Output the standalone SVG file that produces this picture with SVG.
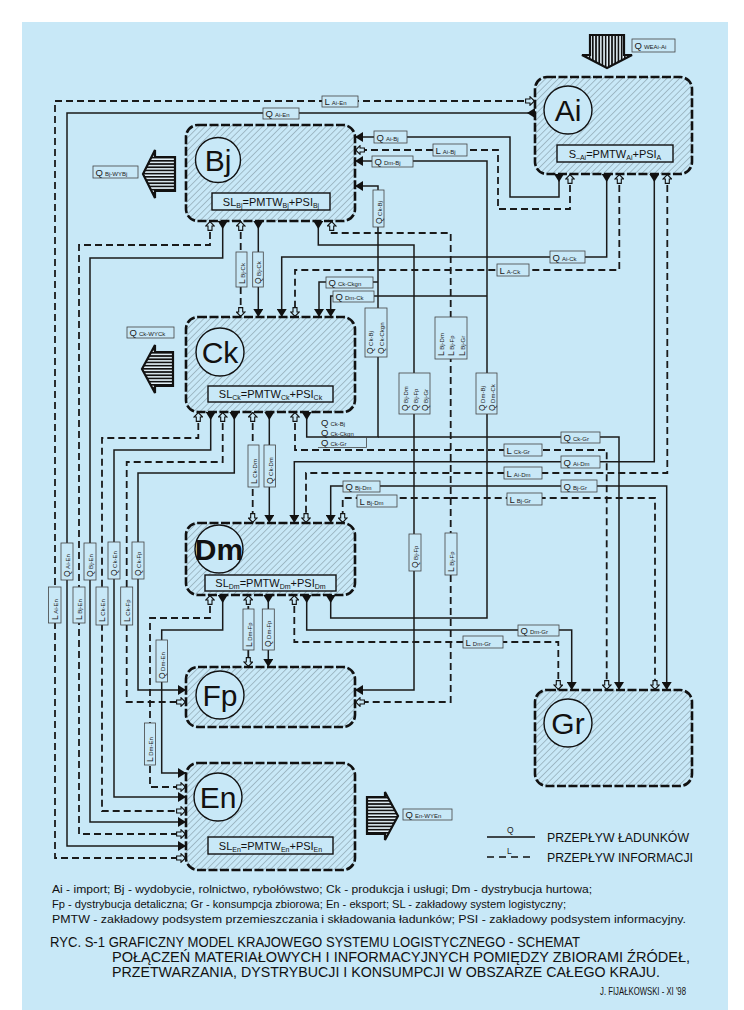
<svg xmlns="http://www.w3.org/2000/svg" width="744" height="1010" viewBox="0 0 744 1010">
<style>
.bg{fill:#c8e8f7}
.node{fill:url(#hatch);stroke:#111;stroke-width:2.6;stroke-dasharray:9 2.5}
.circ{fill:#c8e8f7;stroke:#111;stroke-width:1.4}
.big{font-family:"Liberation Sans",Arial,sans-serif;font-size:30px;fill:#111;text-anchor:middle}
.slbox{fill:#c8e8f7;stroke:#111;stroke-width:1.4}
.sl{font-family:"Liberation Sans",Arial,sans-serif;font-size:11px;fill:#111;text-anchor:middle}
.sb{font-size:7px}
.q{fill:none;stroke:#1a1a1a;stroke-width:1.5;marker-start:url(#qs);marker-end:url(#qe)}
.qb{fill:none;stroke:#1a1a1a;stroke-width:1.5;marker-end:url(#qe)}
.l{fill:none;stroke:#1a1a1a;stroke-width:1.8;stroke-dasharray:7 4;marker-start:url(#ie);marker-end:url(#ie)}
.lb{fill:none;stroke:#1a1a1a;stroke-width:1.8;stroke-dasharray:7 4;marker-end:url(#ie)}
.box{fill:#c8e8f7;stroke:#444;stroke-width:0.8}
.lt{font-family:"Liberation Sans",Arial,sans-serif;font-size:9.5px;fill:#222}
.vt{font-family:"Liberation Sans",Arial,sans-serif;font-size:8.5px;fill:#222}
.s{font-size:6px}
.xa{stroke:#111;stroke-width:2.2;stroke-linejoin:miter}
.foot{font-family:"Liberation Sans",Arial,sans-serif;font-size:11.5px;fill:#111}
.ttl{font-family:"Liberation Sans",Arial,sans-serif;font-size:15px;fill:#111}
.leg{font-family:"Liberation Sans",Arial,sans-serif;font-size:12px;fill:#111}
</style>
<defs>
<pattern id="hatch" width="4.5" height="4.5" patternUnits="userSpaceOnUse" patternTransform="rotate(45)">
<rect width="4.5" height="4.5" fill="#c8e8f7"/>
<line x1="0" y1="0" x2="0" y2="4.5" stroke="#56666e" stroke-width="0.7"/>
</pattern>
<pattern id="hstripe" width="10" height="3.2" patternUnits="userSpaceOnUse">
<rect width="10" height="3.2" fill="#e6f4fb"/>
<rect width="10" height="1.7" fill="#111"/>
</pattern>
<pattern id="vstripe" width="3.2" height="10" patternUnits="userSpaceOnUse">
<rect width="3.2" height="10" fill="#e6f4fb"/>
<rect width="1.7" height="10" fill="#111"/>
</pattern>
<marker id="qe" viewBox="0 0 8 10" refX="8" refY="5" markerWidth="8" markerHeight="10" markerUnits="userSpaceOnUse" orient="auto"><path d="M0,0 L8,5 L0,10 z" fill="#111" stroke="none"/></marker>
<marker id="qs" viewBox="0 0 8 10" refX="0" refY="5" markerWidth="8" markerHeight="10" markerUnits="userSpaceOnUse" orient="auto"><path d="M0,0 L8,5 L0,10 z" fill="#111" stroke="none"/></marker>
<marker id="ie" viewBox="0 0 10 10" refX="10" refY="5" markerWidth="10" markerHeight="10" markerUnits="userSpaceOnUse" orient="auto-start-reverse"><path d="M0.6,3 H5 V0.7 L9.4,5 L5,9.3 V7 H0.6 z" fill="#c8e8f7" stroke="#111" stroke-width="1.1" stroke-dasharray="none"/></marker>
</defs>

<rect x="0" y="0" width="744" height="1010" fill="#ffffff"/>
<rect class="bg" x="22" y="22" width="706" height="988"/>

<g id="connectors">
<path class="q" d="M535,113 H67 V846 H186"/>
<path class="q" d="M559,174 V197 H510 V137 H355"/>
<path class="q" d="M330.7,595 V618 H487 V161 H355"/>
<path class="qb" d="M487,296 H330.7 V317"/>
<path class="q" d="M222.7,221 V258 H90 V822 H186"/>
<path class="q" d="M258.3,221 V317"/>
<path class="q" d="M318.3,221 V245 H414 V690 H355"/>
<path class="qb" d="M414,486 H330.7 V523"/>
<path class="qb" d="M414,486 H666.7 V690"/>
<path class="q" d="M606.7,174 V257 H281.7 V317"/>
<path class="q" d="M654.3,174 V461.7 H294.3 V523"/>
<path class="q" d="M306.7,412 V437 H378 V186 H355"/>
<path class="qb" d="M378,282 H319 V317"/>
<path class="qb" d="M378,437 H619 V690" stroke-width="2.2"/>
<path class="q" d="M210.7,412 V450 H114 V797 H186"/>
<path class="q" d="M234.3,412 V473 H138 V690 H186"/>
<path class="q" d="M269.3,412 V523"/>
<path class="q" d="M222.7,595 V630 H161.7 V773 H186"/>
<path class="q" d="M268.3,595 V667"/>
<path class="q" d="M306.7,595 V630 H571.7 V690"/>

<path class="l" d="M535,101 H55 V858 H186"/>
<path class="l" d="M570,174 V209 H498 V150 H355"/>
<path class="l" d="M210,221 V245 H79 V834 H186"/>
<path class="l" d="M240.7,221 V317"/>
<path class="l" d="M331.7,221 V233 H450.7 V702 H355"/>
<path class="lb" d="M450.7,498 H342.7 V523"/>
<path class="lb" d="M450.7,498 H655 V690"/>
<path class="l" d="M619.3,174 V270 H295 V317"/>
<path class="l" d="M667.3,174 V473 H306 V523"/>
<path class="l" d="M198.3,412 V438 H102 V811 H186"/>
<path class="l" d="M222.7,412 V462 H126.7 V702 H186"/>
<path class="l" d="M252.7,412 V523"/>
<path class="l" d="M295,412 V450 H606.7 V690"/>
<path class="l" d="M210,595 V618 H150 V787 H186"/>
<path class="l" d="M248.3,595 V667"/>
<path class="l" d="M294.3,595 V642 H558.3 V690"/>
</g>

<g id="node-Ai">
<rect class="node" x="535" y="77" width="157" height="97" rx="12"/>
<circle class="circ" cx="568" cy="110" r="24"/>
<text class="big" x="568" y="121">Ai</text>
<rect class="slbox" x="557" y="145" width="116" height="17"/>
<text class="sl" x="615" y="157.5">S<tspan class="sb" dy="2">–Ai</tspan><tspan dy="-2">=PMTW</tspan><tspan class="sb" dy="2">Ai</tspan><tspan dy="-2">+PSI</tspan><tspan class="sb" dy="2">A</tspan></text>
<polygon class="xa" fill="url(#vstripe)" points="590,35 624,35 624,55 632,55 607,68 582,55 590,55"/>
</g>

<g id="node-Bj">
<rect class="node" x="186" y="125" width="169" height="96" rx="12"/>
<circle class="circ" cx="218" cy="160" r="22.5"/>
<text class="big" x="218" y="171">Bj</text>
<rect class="slbox" x="212" y="193" width="118" height="17"/>
<text class="sl" x="271" y="205.5">SL<tspan class="sb" dy="2">Bj</tspan><tspan dy="-2">=PMTW</tspan><tspan class="sb" dy="2">Bj</tspan><tspan dy="-2">+PSI</tspan><tspan class="sb" dy="2">Bj</tspan></text>
<polygon class="xa" fill="url(#hstripe)" points="175,157 155,157 155,150 143,174 155,198 155,191 175,191"/>
</g>

<g id="node-Ck">
<rect class="node" x="186" y="317" width="169" height="95" rx="12"/>
<circle class="circ" cx="220" cy="352" r="24"/>
<text class="big" x="220" y="363">Ck</text>
<rect class="slbox" x="208" y="386" width="125" height="16"/>
<text class="sl" x="270.5" y="398">SL<tspan class="sb" dy="2">Ck</tspan><tspan dy="-2">=PMTW</tspan><tspan class="sb" dy="2">Ck</tspan><tspan dy="-2">+PSI</tspan><tspan class="sb" dy="2">Ck</tspan></text>
<polygon class="xa" fill="url(#hstripe)" points="173,352 155,352 155,345 142,369 155,393 155,386 173,386"/>
</g>

<g id="node-Dm">
<rect class="node" x="186" y="523" width="169" height="72" rx="12"/>
<circle class="circ" cx="219" cy="549" r="24"/>
<text class="big" x="219" y="560" font-weight="bold">Dm</text>
<rect class="slbox" x="205" y="575" width="131" height="16"/>
<text class="sl" x="270.5" y="587">SL<tspan class="sb" dy="2">Dm</tspan><tspan dy="-2">=PMTW</tspan><tspan class="sb" dy="2">Dm</tspan><tspan dy="-2">+PSI</tspan><tspan class="sb" dy="2">Dm</tspan></text>
</g>

<g id="node-Fp">
<rect class="node" x="186" y="667" width="169" height="60" rx="12"/>
<circle class="circ" cx="220" cy="695" r="24"/>
<text class="big" x="220" y="706">Fp</text>
</g>

<g id="node-En">
<rect class="node" x="186" y="763" width="169" height="107" rx="12"/>
<circle class="circ" cx="218" cy="797" r="24"/>
<text class="big" x="218" y="808">En</text>
<rect class="slbox" x="208" y="837" width="125" height="17"/>
<text class="sl" x="270.5" y="849.5">SL<tspan class="sb" dy="2">En</tspan><tspan dy="-2">=PMTW</tspan><tspan class="sb" dy="2">En</tspan><tspan dy="-2">+PSI</tspan><tspan class="sb" dy="2">En</tspan></text>
<polygon class="xa" fill="url(#hstripe)" points="367,797 385,797 385,792 398,816 385,840 385,834 367,834"/>
</g>

<g id="node-Gr">
<rect class="node" x="535" y="690" width="157" height="96" rx="12"/>
<circle class="circ" cx="568" cy="723" r="24"/>
<text class="big" x="568" y="734">Gr</text>
</g>

<g id="labels">
<rect class="box" x="632" y="39" width="43" height="13"/><text class="lt" x="634.5" y="49">Q<tspan class="s" dx="2">WEAi-Ai</tspan></text>
<rect class="box" x="322" y="96" width="36" height="11"/><text class="lt" x="324.5" y="105">L<tspan class="s" dx="2">Ai-En</tspan></text>
<rect class="box" x="263" y="108" width="36" height="11"/><text class="lt" x="265.5" y="117">Q<tspan class="s" dx="2">Ai-En</tspan></text>
<rect class="box" x="374" y="131" width="33" height="12"/><text class="lt" x="376.5" y="140.5">Q<tspan class="s" dx="2">Ai-Bj</tspan></text>
<rect class="box" x="433" y="144" width="34" height="12"/><text class="lt" x="435.5" y="153.5">L<tspan class="s" dx="2">Ai-Bj</tspan></text>
<rect class="box" x="372" y="156" width="41" height="11"/><text class="lt" x="374.5" y="165">Q<tspan class="s" dx="2">Dm-Bj</tspan></text>
<rect class="box" x="93" y="166" width="45" height="12"/><text class="lt" x="95.5" y="175.5">Q<tspan class="s" dx="2">Bj-WYBj</tspan></text>
<rect class="box" x="550" y="251" width="35" height="12"/><text class="lt" x="552.5" y="260.5">Q<tspan class="s" dx="2">Ai-Ck</tspan></text>
<rect class="box" x="497" y="264" width="32" height="12"/><text class="lt" x="499.5" y="273.5">L<tspan class="s" dx="2">A-Ck</tspan></text>
<rect class="box" x="326" y="277" width="47" height="11"/><text class="lt" x="328.5" y="286">Q<tspan class="s" dx="2">Ck-Ckgn</tspan></text>
<rect class="box" x="333" y="291" width="41" height="11"/><text class="lt" x="335.5" y="300">Q<tspan class="s" dx="2">Dm-Ck</tspan></text>
<rect class="box" x="127" y="327" width="47" height="11"/><text class="lt" x="129.5" y="336">Q<tspan class="s" dx="2">Ck-WYCk</tspan></text>
<rect class="box" x="561" y="432" width="39" height="11"/><text class="lt" x="563.5" y="441">Q<tspan class="s" dx="2">Ck-Gr</tspan></text>
<rect class="box" x="504" y="444" width="38" height="12"/><text class="lt" x="506.5" y="453.5">L<tspan class="s" dx="2">Ck-Gr</tspan></text>
<rect class="box" x="561" y="456" width="39" height="12"/><text class="lt" x="563.5" y="465.5">Q<tspan class="s" dx="2">Ai-Dm</tspan></text>
<rect class="box" x="504" y="467" width="38" height="12"/><text class="lt" x="506.5" y="476.5">L<tspan class="s" dx="2">Ai-Dm</tspan></text>
<rect class="box" x="343" y="481" width="37" height="11"/><text class="lt" x="345.5" y="490">Q<tspan class="s" dx="2">Bj-Dm</tspan></text>
<rect class="box" x="561" y="480" width="36" height="12"/><text class="lt" x="563.5" y="489.5">Q<tspan class="s" dx="2">Bj-Gr</tspan></text>
<rect class="box" x="357" y="495" width="40" height="12"/><text class="lt" x="359.5" y="504.5">L<tspan class="s" dx="2">Bj-Dm</tspan></text>
<rect class="box" x="507" y="493" width="35" height="12"/><text class="lt" x="509.5" y="502.5">L<tspan class="s" dx="2">Bj-Gr</tspan></text>
<rect class="box" x="518" y="625" width="41" height="11"/><text class="lt" x="520.5" y="634">Q<tspan class="s" dx="2">Dm-Gr</tspan></text>
<rect class="box" x="463" y="636" width="40" height="12"/><text class="lt" x="465.5" y="645.5">L<tspan class="s" dx="2">Dm-Gr</tspan></text>
<rect class="box" x="403" y="809" width="49" height="11"/><text class="lt" x="405.5" y="818">Q<tspan class="s" dx="2">En-WYEn</tspan></text>

<text class="lt" x="321" y="426">Q<tspan class="s" dx="2">Ck-Bj</tspan></text>
<text class="lt" x="321" y="436">Q<tspan class="s" dx="2">Ck-Ckgn</tspan></text>
<text class="lt" x="321" y="446">Q<tspan class="s" dx="2">Ck-Gr</tspan></text>
<polyline points="318,447.5 366.5,447.5 366.5,437" fill="none" stroke="#444" stroke-width="0.8"/>

<rect class="box" x="236" y="252" width="11" height="35"/><text class="vt" transform="translate(244.5,284) rotate(-90)">L<tspan class="s" dx="1.5">Bj-Ck</tspan></text>
<rect class="box" x="252.7" y="252" width="10.6" height="35"/><text class="vt" transform="translate(261.3,284) rotate(-90)">Q<tspan class="s" dx="1.5">Bj-Ck</tspan></text>
<rect class="box" x="373" y="190" width="11" height="37"/><text class="vt" transform="translate(381.5,224) rotate(-90)">Q<tspan class="s" dx="1.5">Ck-Bj</tspan></text>
<rect class="box" x="365" y="308" width="22" height="49"/>
<text class="vt" transform="translate(373,354) rotate(-90)">Q<tspan class="s" dx="1.5">Ck-Bj</tspan></text>
<text class="vt" transform="translate(384,354) rotate(-90)">Q<tspan class="s" dx="1.5">Ck-Ckgn</tspan></text>
<rect class="box" x="435" y="317" width="32" height="42"/>
<text class="vt" transform="translate(443.5,356) rotate(-90)">L<tspan class="s" dx="1.5">Bj-Dm</tspan></text>
<text class="vt" transform="translate(454,356) rotate(-90)">L<tspan class="s" dx="1.5">Bj-Fp</tspan></text>
<text class="vt" transform="translate(464.5,356) rotate(-90)">L<tspan class="s" dx="1.5">Bj-Gr</tspan></text>
<rect class="box" x="399" y="373" width="31" height="41"/>
<text class="vt" transform="translate(408,411) rotate(-90)">Q<tspan class="s" dx="1.5">Bj-Dm</tspan></text>
<text class="vt" transform="translate(418,411) rotate(-90)">Q<tspan class="s" dx="1.5">Bj-Fp</tspan></text>
<text class="vt" transform="translate(428,411) rotate(-90)">Q<tspan class="s" dx="1.5">Bj-Gr</tspan></text>
<rect class="box" x="476" y="373" width="21" height="41"/>
<text class="vt" transform="translate(485,411) rotate(-90)">Q<tspan class="s" dx="1.5">Dm-Bj</tspan></text>
<text class="vt" transform="translate(495,411) rotate(-90)">Q<tspan class="s" dx="1.5">Dm-Ck</tspan></text>
<rect class="box" x="248" y="445" width="11" height="42"/><text class="vt" transform="translate(256.5,484) rotate(-90)">L<tspan class="s" dx="1.5">Ck-Dm</tspan></text>
<rect class="box" x="264" y="445" width="11.5" height="42"/><text class="vt" transform="translate(272.8,484) rotate(-90)">Q<tspan class="s" dx="1.5">Ck-Dm</tspan></text>
<rect class="box" x="409" y="534" width="12" height="37"/><text class="vt" transform="translate(418,568) rotate(-90)">Q<tspan class="s" dx="1.5">Bj-Fp</tspan></text>
<rect class="box" x="445" y="533" width="12" height="42"/><text class="vt" transform="translate(454,572) rotate(-90)">L<tspan class="s" dx="1.5">Bj-Fp</tspan></text>
<rect class="box" x="61" y="543" width="12" height="37"/><text class="vt" transform="translate(70,577) rotate(-90)">Q<tspan class="s" dx="1.5">Ai-En</tspan></text>
<rect class="box" x="48.5" y="587" width="12.5" height="36"/><text class="vt" transform="translate(57.8,620) rotate(-90)">L<tspan class="s" dx="1.5">Ai-En</tspan></text>
<rect class="box" x="84" y="543" width="12" height="37"/><text class="vt" transform="translate(93,577) rotate(-90)">Q<tspan class="s" dx="1.5">Bj-En</tspan></text>
<rect class="box" x="73" y="587" width="12" height="36"/><text class="vt" transform="translate(82,620) rotate(-90)">L<tspan class="s" dx="1.5">Bj-En</tspan></text>
<rect class="box" x="108" y="542" width="12" height="37"/><text class="vt" transform="translate(117,576) rotate(-90)">Q<tspan class="s" dx="1.5">Ck-En</tspan></text>
<rect class="box" x="96" y="587" width="12" height="38"/><text class="vt" transform="translate(105,622) rotate(-90)">L<tspan class="s" dx="1.5">Ck-En</tspan></text>
<rect class="box" x="132" y="542" width="12" height="37"/><text class="vt" transform="translate(141,576) rotate(-90)">Q<tspan class="s" dx="1.5">Ck-Fp</tspan></text>
<rect class="box" x="120.7" y="587" width="12" height="38"/><text class="vt" transform="translate(129.7,622) rotate(-90)">L<tspan class="s" dx="1.5">Ck-Fp</tspan></text>
<rect class="box" x="243" y="609" width="11" height="41"/><text class="vt" transform="translate(251.5,647) rotate(-90)">L<tspan class="s" dx="1.5">Dm-Fp</tspan></text>
<rect class="box" x="262.3" y="609" width="12" height="41"/><text class="vt" transform="translate(271.3,647) rotate(-90)">Q<tspan class="s" dx="1.5">Dm-Fp</tspan></text>
<rect class="box" x="156" y="640" width="11.5" height="42"/><text class="vt" transform="translate(164.7,679) rotate(-90)">Q<tspan class="s" dx="1.5">Dm-En</tspan></text>
<rect class="box" x="144.5" y="723" width="11" height="42"/><text class="vt" transform="translate(153,762) rotate(-90)">L<tspan class="s" dx="1.5">Dm-En</tspan></text>
</g>

<g id="legend">
<line x1="487" y1="837" x2="535" y2="837" stroke="#111" stroke-width="1.5"/>
<text class="vt" x="507" y="833" font-size="7">Q</text>
<line x1="487" y1="857" x2="535" y2="857" stroke="#111" stroke-width="1.5" stroke-dasharray="7 5"/>
<text class="vt" x="507" y="854" font-size="6">L</text>
<text class="leg" x="547" y="841.5" textLength="142" lengthAdjust="spacingAndGlyphs">PRZEPŁYW ŁADUNKÓW</text>
<text class="leg" x="547" y="861.5" textLength="146" lengthAdjust="spacingAndGlyphs">PRZEPŁYW INFORMACJI</text>
</g>

<g id="caption">
<text class="foot" x="52" y="893" textLength="540" lengthAdjust="spacingAndGlyphs">Ai - import; Bj - wydobycie, rolnictwo, rybołówstwo; Ck - produkcja i usługi; Dm - dystrybucja hurtowa;</text>
<text class="foot" x="52" y="908" textLength="514" lengthAdjust="spacingAndGlyphs">Fp - dystrybucja detaliczna; Gr - konsumpcja zbiorowa; En - eksport; SL - zakładowy system logistyczny;</text>
<text class="foot" x="52" y="923" textLength="634" lengthAdjust="spacingAndGlyphs">PMTW - zakładowy podsystem przemieszczania i składowania ładunków; PSI - zakładowy podsystem informacyjny.</text>
<text class="ttl" x="50" y="947" textLength="530" lengthAdjust="spacingAndGlyphs">RYC. S-1 GRAFICZNY MODEL KRAJOWEGO SYSTEMU LOGISTYCZNEGO - SCHEMAT</text>
<text class="ttl" x="112" y="962" textLength="578" lengthAdjust="spacingAndGlyphs">POŁĄCZEŃ MATERIAŁOWYCH I INFORMACYJNYCH POMIĘDZY ZBIORAMI ŹRÓDEŁ,</text>
<text class="ttl" x="112" y="977" textLength="548" lengthAdjust="spacingAndGlyphs">PRZETWARZANIA, DYSTRYBUCJI I KONSUMPCJI W OBSZARZE CAŁEGO KRAJU.</text>
<text class="foot" x="600" y="995" font-size="9" textLength="86" lengthAdjust="spacingAndGlyphs">J. FIJAŁKOWSKI - XI '98</text>
</g>
</svg>
